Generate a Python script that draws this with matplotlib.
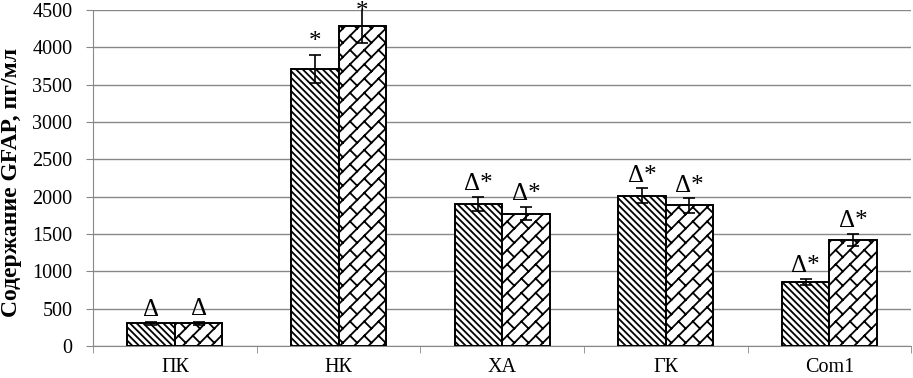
import numpy as np
import matplotlib.pyplot as plt
import matplotlib as mpl
import matplotlib.hatch as mhatch
from matplotlib.path import Path

groups = ['ПК', 'НК', 'ХА', 'ГК', 'Com1']
series_a = [300, 3710, 1900, 2010, 860]
series_b = [305, 4290, 1770, 1880, 1420]
err_a = [15, 190, 100, 100, 40]
err_b = [20, 240, 90, 100, 80]
marks_a = ['Δ', '*', 'Δ*', 'Δ*', 'Δ*']
marks_b = ['Δ', '*', 'Δ*', 'Δ*', 'Δ*']


# brick-like diagonal hatch, selected with the letter 'b'
class BrickHatch(mhatch.HatchPatternBase):
    def __init__(self, hatch, density):
        self.segs = []
        if 'b' in hatch:
            n = 7
            # long lines along the "/" direction
            for k in range(-9, 10):
                v = k / n
                self.segs.append(((-1.0, -1.0 + v), (2.0, 2.0 + v)))
            # short staggered joints between them
            for k in range(-9, 9):
                v0, v1 = k / n, (k + 1) / n
                off = (k % 2) / n
                for m in range(-6, 20):
                    u = m * 2 / n + off
                    self.segs.append((((u - v0) / 2, (u + v0) / 2),
                                      ((u - v1) / 2, (u + v1) / 2)))
        self.num_vertices = 2 * len(self.segs)

    def set_vertices_and_codes(self, vertices, codes):
        for i, (p, q) in enumerate(self.segs):
            vertices[2 * i] = p
            vertices[2 * i + 1] = q
            codes[2 * i] = Path.MOVETO
            codes[2 * i + 1] = Path.LINETO


mhatch._hatch_types.append(BrickHatch)

plt.rcParams['font.family'] = ['Liberation Serif', 'DejaVu Serif']
mpl.rcParams['hatch.linewidth'] = 1.3

fig = plt.figure(figsize=(9.13, 3.78), dpi=100)
ax = fig.add_axes([0.102, 0.085, 0.896, 0.889])

x = np.arange(len(groups))
w = 0.29
ax.bar(x - w / 2, series_a, w, color='white', edgecolor='black', hatch='\\\\\\\\\\',
       linewidth=1.4, zorder=3)
ax.bar(x + w / 2, series_b, w, color='white', edgecolor='black', hatch='b',
       linewidth=1.4, zorder=3)
ax.errorbar(x - w / 2, series_a, yerr=err_a, fmt='none', ecolor='black',
            elinewidth=1.2, capsize=4, capthick=1.2, zorder=4)
ax.errorbar(x + w / 2, series_b, yerr=err_b, fmt='none', ecolor='black',
            elinewidth=1.2, capsize=4, capthick=1.2, zorder=4)

for i in range(len(groups)):
    ya = min(series_a[i] + err_a[i] + 20, 4330)
    yb = min(series_b[i] + err_b[i] + 20, 4330)
    ax.text(x[i] - w / 2, ya, marks_a[i], ha='center', va='bottom',
            fontsize=18, zorder=5, clip_on=False)
    ax.text(x[i] + w / 2, yb, marks_b[i], ha='center', va='bottom',
            fontsize=18, zorder=5, clip_on=False)

ax.set_xlim(-0.5, len(groups) - 0.5)
ax.set_ylim(0, 4500)
ax.set_yticks(np.arange(0, 4501, 500))
ax.set_xticks(x)
ax.set_xticklabels(groups)
ax.set_xticks(np.arange(-0.5, len(groups), 1), minor=True)
ax.tick_params(axis='x', which='major', length=0, labelsize=14.5, pad=9)
ax.tick_params(axis='x', which='minor', length=5, color='#888888')
ax.tick_params(axis='y', length=5, color='#888888', labelsize=14.5, pad=10)
ax.grid(axis='y', color='#888888', linewidth=1, zorder=0)
ax.set_axisbelow(True)
for s in ['top', 'right']:
    ax.spines[s].set_visible(False)
for s in ['left', 'bottom']:
    ax.spines[s].set_color('#888888')
ax.set_ylabel('Содержание GFAP, пг/мл', fontsize=17, fontweight='bold')
ax.yaxis.set_label_coords(-0.087, 0.485)

fig.savefig('out.png', dpi=100)
